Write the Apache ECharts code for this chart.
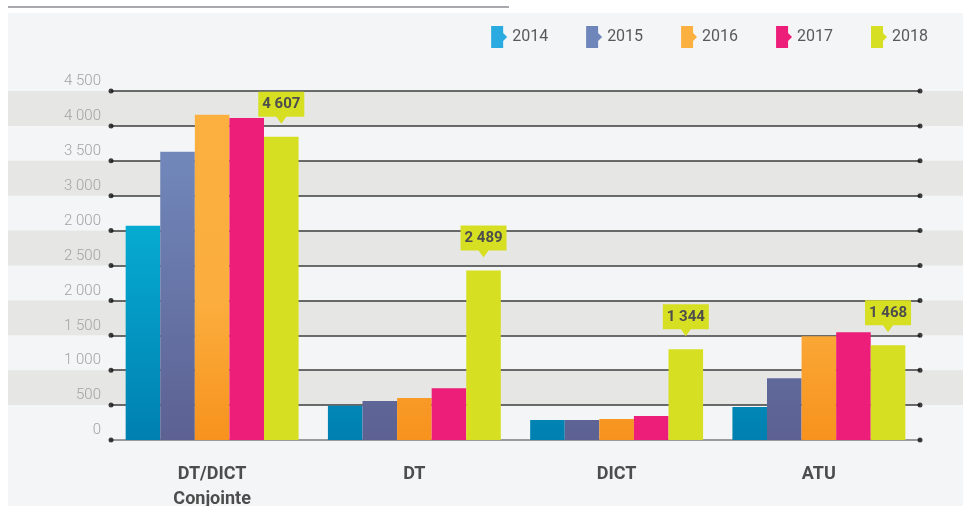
<!DOCTYPE html>
<html>
<head>
<meta charset="utf-8">
<script src="https://cdn.jsdelivr.net/npm/echarts@6/dist/echarts.min.js"></script>
<style>
  html, body { margin: 0; padding: 0; background: #fff; overflow: hidden; }
  #main { width: 963px; height: 506px; }
</style>
</head>
<body>
<div id="main"></div>
<script>
var chartDom = document.getElementById('main');
var myChart = echarts.init(chartDom);
var option;

// Categories on the x axis
const categories = ['DT/DICT\nConjointe', 'DT', 'DICT', 'ATU'];
const years = ['2014', '2015', '2016', '2017', '2018'];

// Bar heights
const v2014 = [3070, 490, 286, 471];
const v2015 = [4130, 557, 286, 886];
const v2016 = [4660, 600, 300, 1486];
const v2017 = [4614, 743, 343, 1543];
const v2018 = [4343, 2429, 1300, 1357];

// Values printed in the callouts above the 2018 bars
const callouts2018 = [4607, 2489, 1344, 1468];

// Tick labels as printed (bottom to top), one per 500 step
const yTickLabels = ['0', '500', '1 000', '1 500', '2 000', '2 500', '2 000', '3 000', '3 500', '4 000', '4 500'];
const yStep = 500;

const legendColors = ['#29abe2', '#6f86bb', '#fbb040', '#ed1e79', '#d7df23'];

function grad(stops) {
  return {
    type: 'linear', x: 0, y: 90, x2: 0, y2: 440, global: true,
    colorStops: stops
  };
}
const barColors = [
  grad([{ offset: 0, color: '#00b2da' }, { offset: 0.4, color: '#06aad1' }, { offset: 1, color: '#0080b0' }]),
  grad([{ offset: 0, color: '#7690c4' }, { offset: 1, color: '#5c6192' }]),
  grad([{ offset: 0, color: '#fbb040' }, { offset: 0.6, color: '#fbae3e' }, { offset: 1, color: '#f7921d' }]),
  '#ed1e79',
  '#d7df23'
];
const values = [v2014, v2015, v2016, v2017, v2018];

function fmt(n) {
  return String(n).replace(/\B(?=(\d{3})+(?!\d))/g, ' ');
}

const yMax = yStep * (yTickLabels.length - 1);
const font = 'Roboto, "Open Sans", sans-serif';

// dots at both ends of every grid line
let dots = [];
yTickLabels.forEach(function (lab, i) {
  dots.push([0, i * yStep]);
  dots.push([1, i * yStep]);
});

let series = years.map(function (y, idx) {
  return {
    name: y,
    type: 'bar',
    xAxisIndex: 0,
    yAxisIndex: 0,
    barGap: '0%',
    barCategoryGap: '14.5%',
    itemStyle: { color: barColors[idx] },
    data: values[idx],
    z: 3
  };
});

// callouts on the 2018 series
series[4].markPoint = {
  symbol: 'path://M0,0 H46 V25 H28 L23,32 L18,25 H0 Z',
  symbolSize: [46, 32],
  symbolOffset: [0, -29],
  itemStyle: { color: '#d7df23' },
  label: {
    show: true,
    offset: [0, -3.5],
    color: '#4d4d4d',
    fontWeight: 'bold',
    fontSize: 15,
    fontFamily: font
  },
  data: v2018.map(function (v, i) {
    return { coord: [i, v], value: fmt(callouts2018[i]) };
  })
};

series.push({
  type: 'scatter',
  xAxisIndex: 1,
  yAxisIndex: 1,
  symbolSize: 5,
  itemStyle: { color: '#111' },
  silent: true,
  data: dots,
  z: 4
});

option = {
  animation: false,
  graphic: [
    { type: 'rect', z: -10, shape: { x: 8, y: 13, width: 955, height: 493 }, style: { fill: '#f4f5f7' } },
    { type: 'rect', z: -10, shape: { x: 8, y: 6, width: 501, height: 2 }, style: { fill: '#a7a9ac' } }
  ],
  legend: {
    data: years.map(function (y, i) {
      return { name: y, itemStyle: { color: legendColors[i] } };
    }),
    icon: 'path://M0,0 H12 V7 L16,11 L12,15 V22 H0 Z',
    right: 35,
    top: 26,
    padding: 0,
    itemWidth: 16,
    itemHeight: 22,
    itemGap: 38,
    textStyle: { fontSize: 16, color: '#58595b', fontFamily: font }
  },
  grid: [
    { left: 111, right: 43, top: 91, bottom: 66, outerBoundsMode: 'none' },
    { left: 111, right: 43, top: 91, bottom: 66, outerBoundsMode: 'none' },
    { left: 8, right: 0, top: 91, bottom: 66, outerBoundsMode: 'none' }
  ],
  xAxis: [
    {
      type: 'category',
      gridIndex: 0,
      data: categories,
      axisLine: { lineStyle: { color: '#9a9a9a', width: 2 } },
      axisTick: { show: false },
      axisLabel: {
        margin: 22,
        color: '#4d4d4d',
        fontWeight: 'bold',
        fontSize: 18,
        lineHeight: 25,
        fontFamily: font
      }
    },
    { type: 'value', gridIndex: 1, min: 0, max: 1, show: false },
    { type: 'value', gridIndex: 2, min: 0, max: 1, show: false }
  ],
  yAxis: [
    {
      type: 'value',
      gridIndex: 0,
      min: 0,
      max: yMax,
      interval: yStep,
      axisLine: { show: false },
      axisTick: { show: false },
      splitLine: { lineStyle: { color: '#3c3c3c', width: 1.5 } },
      axisLabel: {
        margin: 10,
        verticalAlign: 'bottom',
        padding: [0, 0, 2, 0],
        color: '#a3a3a3',
        fontSize: 15,
        fontWeight: 300,
        fontFamily: font,
        formatter: function (v) { return yTickLabels[Math.round(v / yStep)]; }
      }
    },
    { type: 'value', gridIndex: 1, min: 0, max: yMax, interval: yStep, show: false },
    {
      type: 'value',
      gridIndex: 2,
      min: 0,
      max: yMax,
      interval: yStep,
      z: -5,
      axisLine: { show: false },
      axisTick: { show: false },
      axisLabel: { show: false },
      splitLine: { show: false },
      splitArea: { show: true, areaStyle: { color: ['rgba(0,0,0,0)', '#e6e7e4'] } }
    }
  ],
  series: series
};

option && myChart.setOption(option);
</script>
</body>
</html>
